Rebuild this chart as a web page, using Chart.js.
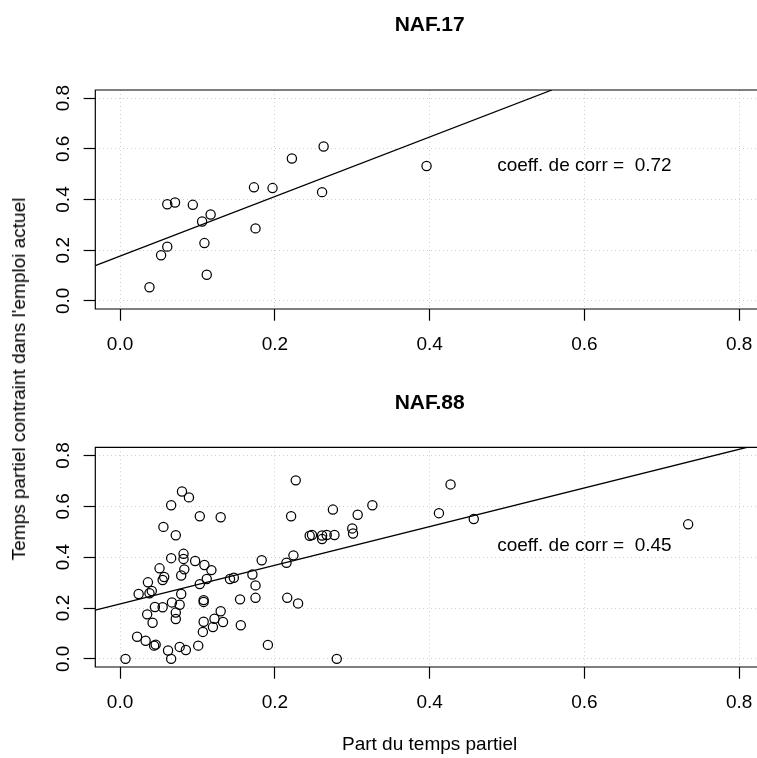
<!DOCTYPE html>
<html>
<head>
<meta charset="utf-8">
<script src="https://cdn.jsdelivr.net/npm/chart.js@4.4.1/dist/chart.umd.min.js"></script>
<style>
  html, body { margin: 0; padding: 0; background: #fff; overflow: hidden; }
  #page { position: relative; width: 757px; height: 758px; overflow: hidden; }
  .panel { position: absolute; left: 0; }
  #ylab {
    position: absolute; left: 19px; top: 379px;
    transform: translate(-50%, -50%) rotate(-90deg);
    white-space: nowrap; color: #000;
    font: 19px "Liberation Sans", Arial, sans-serif;
  }
</style>
</head>
<body>
<div id="page">
  <canvas id="chart17" class="panel" width="790" height="370" style="top:0"></canvas>
  <canvas id="chart88" class="panel" width="790" height="388" style="top:370px"></canvas>
  <div id="ylab">Temps partiel contraint dans l'emploi actuel</div>
</div>
<script>
// graduations communes aux deux panneaux
const tickVals = [0, 0.2, 0.4, 0.6, 0.8];

// NAF.17
const naf17X = [0.038, 0.053, 0.061, 0.061, 0.071, 0.094, 0.106, 0.117, 0.109, 0.112,
                0.173, 0.197, 0.175, 0.222, 0.263, 0.261, 0.396];
const naf17Y = [0.054, 0.180, 0.214, 0.381, 0.388, 0.379, 0.313, 0.341, 0.228, 0.103,
                0.448, 0.445, 0.286, 0.562, 0.609, 0.429, 0.532];
const fit17X = [-0.032, 0.558];
const fit17Y = [0.139, 0.832];
const corr17 = '0.72';

// NAF.88
const naf88X = [0.007, 0.022, 0.033, 0.044, 0.046, 0.024, 0.036, 0.038, 0.041, 0.035,
                0.042, 0.045, 0.055, 0.051, 0.055, 0.057, 0.056, 0.066, 0.066, 0.062,
                0.066, 0.067, 0.072, 0.072, 0.072, 0.077, 0.079, 0.079, 0.083, 0.082,
                0.082, 0.080, 0.089, 0.077, 0.085, 0.097, 0.103, 0.103, 0.109, 0.112,
                0.118, 0.108, 0.108, 0.108, 0.107, 0.101, 0.122, 0.120, 0.130, 0.133,
                0.130, 0.142, 0.147, 0.155, 0.156, 0.171, 0.175, 0.175, 0.183, 0.191,
                0.215, 0.224, 0.216, 0.230, 0.221, 0.227, 0.245, 0.248, 0.261, 0.261,
                0.267, 0.277, 0.275, 0.300, 0.301, 0.307, 0.326, 0.280, 0.412, 0.427,
                0.457, 0.734];
const naf88Y = [0.000, 0.087, 0.071, 0.052, 0.056, 0.255, 0.301, 0.258, 0.267, 0.175,
                0.142, 0.204, 0.203, 0.356, 0.310, 0.322, 0.519, 0.604, 0.396, 0.033,
                0.000, 0.222, 0.182, 0.157, 0.486, 0.213, 0.255, 0.328, 0.352, 0.413,
                0.393, 0.658, 0.635, 0.047, 0.035, 0.385, 0.561, 0.294, 0.369, 0.314,
                0.349, 0.231, 0.224, 0.146, 0.106, 0.052, 0.158, 0.125, 0.187, 0.145,
                0.557, 0.314, 0.319, 0.234, 0.132, 0.332, 0.289, 0.240, 0.388, 0.055,
                0.378, 0.407, 0.240, 0.218, 0.561, 0.702, 0.484, 0.487, 0.471, 0.485,
                0.487, 0.487, 0.587, 0.513, 0.493, 0.567, 0.604, 0.000, 0.573, 0.686,
                0.550, 0.529];
const fit88X = [-0.032, 0.810];
const fit88Y = [0.192, 0.832];
const corr88 = '0.45';

const FONT = '"Liberation Sans", Arial, Helvetica, sans-serif';
const CANVAS_W = 790;
const PLOT_RIGHT = 764;   // le cadre dépasse du bord droit de l'image

// cadre (gauche, haut, bas : le côté droit est hors image) + texte du coefficient
const rPlotPlugin = {
  id: 'rPlot',
  afterDraw(chart, args, opts) {
    const { ctx, chartArea: a, scales } = chart;
    ctx.save();
    ctx.strokeStyle = '#000';
    ctx.lineWidth = 1.2;
    ctx.beginPath();
    ctx.moveTo(a.right + 5, a.top);
    ctx.lineTo(a.left, a.top);
    ctx.lineTo(a.left, a.bottom);
    ctx.lineTo(a.right + 5, a.bottom);
    ctx.stroke();
    ctx.fillStyle = '#000';
    ctx.font = '19px ' + FONT;
    ctx.textAlign = 'center';
    ctx.textBaseline = 'middle';
    ctx.fillText('coeff. de corr =  ' + opts.corr,
      scales.x.getPixelForValue(opts.at[0]), scales.y.getPixelForValue(opts.at[1]));
    ctx.restore();
  }
};

function axisOpts(extra) {
  return Object.assign({
    type: 'linear',
    min: -0.032,
    max: 0.832,
    afterBuildTicks: s => { s.ticks = tickVals.map(v => ({ value: v })); },
    ticks: {
      callback: v => Number(v).toFixed(1),
      color: '#000',
      font: { family: FONT, size: 19 },
      autoSkip: false
    },
    grid: {
      color: '#cfcfcf',
      lineWidth: 1,
      tickLength: 11.7,
      tickColor: '#000',
      tickWidth: 1.2,
      tickBorderDash: []
    },
    border: { display: false, dash: [1, 3] }
  }, extra);
}

function makePanel(id, title, titlePad, xs, ys, fx, fy, corr, corrAt, xHeight, xTitle) {
  const xAxis = axisOpts({ afterFit: s => { s.height = xHeight; } });
  xAxis.ticks = Object.assign({}, xAxis.ticks, { padding: 13, maxRotation: 0 });
  if (xTitle) {
    xAxis.title = {
      display: true, text: xTitle, color: '#000',
      font: { family: FONT, size: 19 }, padding: { top: 0, bottom: 1.6 }
    };
  }
  const yAxis = axisOpts({ afterFit: s => { s.width = 95.3; } });
  yAxis.ticks = Object.assign({}, yAxis.ticks,
    { padding: 7, minRotation: 90, maxRotation: 90, crossAlign: 'center' });

  return new Chart(document.getElementById(id), {
    type: 'scatter',
    data: {
      datasets: [
        {
          data: xs.map((x, i) => ({ x, y: ys[i] })),
          pointStyle: 'circle',
          pointRadius: 4.6,
          borderColor: '#000',
          backgroundColor: 'rgba(0,0,0,0)',
          borderWidth: 1.25
        },
        {
          data: fx.map((x, i) => ({ x, y: fy[i] })),
          showLine: true,
          pointRadius: 0,
          borderColor: '#000',
          borderWidth: 1.3,
          fill: false
        }
      ]
    },
    options: {
      responsive: false,
      animation: false,
      events: [],
      layout: { padding: { left: 0, right: CANVAS_W - PLOT_RIGHT, top: 0, bottom: 0 } },
      plugins: {
        legend: { display: false },
        tooltip: { enabled: false },
        title: {
          display: true,
          text: title,
          fullSize: false,
          color: '#000',
          font: { family: FONT, size: 21, weight: 'bold' },
          padding: titlePad
        },
        rPlot: { corr, at: corrAt }
      },
      scales: { x: xAxis, y: yAxis }
    },
    plugins: [rPlotPlugin]
  });
}

makePanel('chart17', 'NAF.17', { top: 12.9, bottom: 51.9 },
  naf17X, naf17Y, fit17X, fit17Y, corr17, [0.6, 0.535], 61, null);
makePanel('chart88', 'NAF.88', { top: 20.7, bottom: 31.4 },
  naf88X, naf88Y, fit88X, fit88Y, corr88, [0.6, 0.443], 91, 'Part du temps partiel');
</script>
</body>
</html>
